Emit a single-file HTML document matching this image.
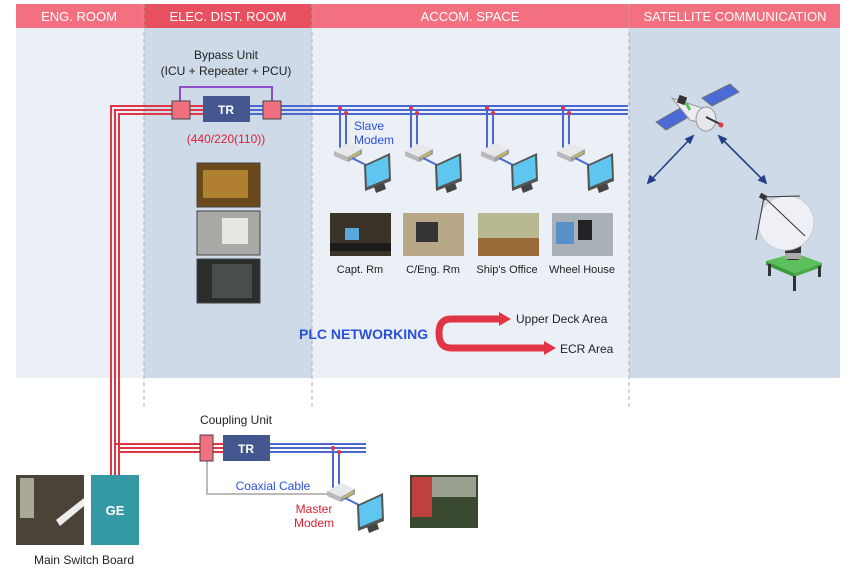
<!DOCTYPE html>
<html><head><meta charset="utf-8"><style>
html,body{margin:0;padding:0;background:#fff;}
svg{display:block;font-family:"Liberation Sans",sans-serif;}
</style></head><body>
<svg width="856" height="569" viewBox="0 0 856 569" xmlns="http://www.w3.org/2000/svg">
<defs>
<g id="pc">
  <polygon points="0,8 14,0 28,6 14,14" fill="#e8e8ea"/>
  <polygon points="0,8 14,14 14,19 0,13" fill="#b8b8bc"/>
  <polygon points="14,14 28,6 28,11 14,19" fill="#9a9aa0"/>
  <line x1="16" y1="15" x2="26" y2="9" stroke="#d4c34a" stroke-width="1.5"/>
  <line x1="18" y1="15" x2="32" y2="22" stroke="#4a6ad0" stroke-width="2"/>
  <polygon points="30,22 56,10 57,38 31,48" fill="#555"/>
  <polygon points="32,23 54,13 55,35 33,44" fill="#5ec6ef"/>
  <polygon points="40,44 50,40 52,46 42,50" fill="#444"/>
</g>
</defs>
<!-- backgrounds -->
<rect x="16" y="28" width="824" height="350" fill="#ebf0f7"/>
<rect x="144" y="28" width="168" height="350" fill="#cfdae8"/>
<rect x="629" y="28" width="211" height="350" fill="#cfdae8"/>
<!-- headers -->
<rect x="16" y="4" width="824" height="24" fill="#f2707f"/>
<rect x="144" y="4" width="168" height="24" fill="#e9505f"/>
<g fill="#fff" font-size="13" text-anchor="middle">
<text x="79" y="21">ENG. ROOM</text>
<text x="228" y="21">ELEC. DIST. ROOM</text>
<text x="470" y="21">ACCOM. SPACE</text>
<text x="735" y="21">SATELLITE COMMUNICATION</text>
</g>
<!-- dashed separators -->
<g stroke="#a8adb5" stroke-dasharray="4,3" stroke-width="1">
<line x1="144" y1="4" x2="144" y2="408"/>
<line x1="312" y1="4" x2="312" y2="408"/>
<line x1="629" y1="4" x2="629" y2="408"/>
</g>
<!-- red vertical/horizontal top -->
<g stroke="#e03545" stroke-width="2" fill="none">
<polyline points="172,106 111,106 111,475"/>
<polyline points="172,110 115,110 115,475"/>
<polyline points="172,114 119,114 119,475"/>
<line x1="190" y1="106" x2="203" y2="106"/><line x1="190" y1="110" x2="203" y2="110"/><line x1="190" y1="114" x2="203" y2="114"/>
<line x1="115" y1="444" x2="200" y2="444"/><line x1="119" y1="448" x2="200" y2="448"/><line x1="119" y1="452" x2="200" y2="452"/>
<line x1="213" y1="444" x2="223" y2="444"/><line x1="213" y1="448" x2="223" y2="448"/><line x1="213" y1="452" x2="223" y2="452"/>
</g>
<!-- blue top -->
<g stroke="#4a68d0" stroke-width="2" fill="none">
<line x1="250" y1="106" x2="263" y2="106"/><line x1="250" y1="110" x2="263" y2="110"/><line x1="250" y1="114" x2="263" y2="114"/>
<line x1="281" y1="106" x2="628" y2="106"/><line x1="281" y1="110" x2="628" y2="110"/><line x1="281" y1="114" x2="628" y2="114"/>
<line x1="270" y1="444" x2="366" y2="444"/><line x1="270" y1="448" x2="366" y2="448"/><line x1="270" y1="452" x2="366" y2="452"/>
<line x1="340" y1="108" x2="340" y2="148"/><line x1="346" y1="113" x2="346" y2="146"/>
<line x1="411" y1="108" x2="411" y2="148"/><line x1="417" y1="113" x2="417" y2="146"/>
<line x1="487" y1="108" x2="487" y2="148"/><line x1="493" y1="113" x2="493" y2="146"/>
<line x1="563" y1="108" x2="563" y2="148"/><line x1="569" y1="113" x2="569" y2="146"/>
<line x1="333" y1="447" x2="333" y2="488"/><line x1="339" y1="452" x2="339" y2="486"/>
</g>
<g fill="#e03545">
<circle cx="340" cy="108" r="2"/><circle cx="346" cy="113" r="2"/>
<circle cx="411" cy="108" r="2"/><circle cx="417" cy="113" r="2"/>
<circle cx="487" cy="108" r="2"/><circle cx="493" cy="113" r="2"/>
<circle cx="563" cy="108" r="2"/><circle cx="569" cy="113" r="2"/>
<circle cx="333" cy="448" r="2"/><circle cx="339" cy="452" r="2"/>
</g>
<!-- bypass -->
<polyline points="180,101 180,87 272,87 272,101" stroke="#8e4fc8" stroke-width="2" fill="none"/>
<rect x="172" y="101" width="18" height="18" fill="#f07080" stroke="#444" stroke-width="1"/>
<rect x="263" y="101" width="18" height="18" fill="#f07080" stroke="#444" stroke-width="1"/>
<rect x="203" y="96" width="47" height="26" fill="#44578f"/>
<text x="226" y="114" fill="#fff" font-size="12" font-weight="bold" text-anchor="middle">TR</text>
<text x="226" y="59" font-size="12" fill="#222" text-anchor="middle">Bypass Unit</text>
<text x="226" y="75" font-size="12" fill="#222" text-anchor="middle">(ICU + Repeater + PCU)</text>
<text x="226" y="143" font-size="12" fill="#e02030" text-anchor="middle">(440/220(110))</text>
<!-- elec photos -->
<rect x="197" y="163" width="63" height="44" fill="#6a4a1a" stroke="#444"/>
<rect x="203" y="170" width="45" height="28" fill="#b08030"/>
<rect x="197" y="211" width="63" height="44" fill="#a8aaa6" stroke="#444"/>
<rect x="222" y="218" width="26" height="26" fill="#e6e6e2"/>
<rect x="197" y="259" width="63" height="44" fill="#2a2e2c" stroke="#444"/>
<rect x="212" y="264" width="40" height="34" fill="#4a4e4a"/>
<!-- slave modems -->
<text x="354" y="130" font-size="12" fill="#2a4fe0">Slave</text>
<text x="354" y="144" font-size="12" fill="#2a4fe0">Modem</text>
<use href="#pc" x="334" y="143"/>
<use href="#pc" x="405" y="143"/>
<use href="#pc" x="481" y="143"/>
<use href="#pc" x="557" y="143"/>
<!-- room photos -->
<rect x="330" y="213" width="61" height="43" fill="#3a3428"/><rect x="345" y="228" width="14" height="12" fill="#58a8e0"/><rect x="330" y="243" width="61" height="8" fill="#1a1a1a"/>
<rect x="403" y="213" width="61" height="43" fill="#b8a888"/><rect x="416" y="222" width="22" height="20" fill="#333"/>
<rect x="478" y="213" width="61" height="43" fill="#b8b890"/><rect x="478" y="238" width="61" height="18" fill="#9a6a38"/>
<rect x="552" y="213" width="61" height="43" fill="#aab0b8"/><rect x="556" y="222" width="18" height="22" fill="#5a90c8"/><rect x="578" y="220" width="14" height="20" fill="#222"/>
<g font-size="11" fill="#222" text-anchor="middle">
<text x="360" y="273">Capt. Rm</text>
<text x="433" y="273">C/Eng. Rm</text>
<text x="507" y="273">Ship's Office</text>
<text x="582" y="273">Wheel House</text>
</g>
<!-- PLC -->
<text x="299" y="339" font-size="14" font-weight="bold" fill="#2a4fe0">PLC NETWORKING</text>
<path d="M500,319 L451,319 Q439,319 439,333 Q439,348 451,348 L545,348" stroke="#e03545" stroke-width="7" fill="none"/>
<polygon points="499,312 511,319 499,326" fill="#e03545"/>
<polygon points="544,341 556,348 544,355" fill="#e03545"/>
<text x="516" y="323" font-size="12" fill="#222">Upper Deck Area</text>
<text x="560" y="353" font-size="12" fill="#222">ECR Area</text>
<!-- satellite -->
<g>
<polygon points="656,122 684,106 694,114 666,130" fill="#4a6ad8" stroke="#777"/>
<polygon points="702,98 730,84 739,92 712,106" fill="#4a6ad8" stroke="#777"/>
<polygon points="672,98 702,108 712,126 690,120" fill="#eceef4" stroke="#999"/>
<rect x="678" y="96" width="8" height="8" fill="#333" transform="rotate(20 682 100)"/>
<ellipse cx="706" cy="119" rx="10" ry="12" fill="#e6e8ee" stroke="#999"/>
<line x1="706" y1="117" x2="720" y2="124" stroke="#333" stroke-width="2"/>
<circle cx="721" cy="125" r="2.5" fill="#e03545"/>
<line x1="686" y1="103" x2="690" y2="110" stroke="#5ac05a" stroke-width="3"/>
</g>
<g stroke="#24408a" stroke-width="1.6" fill="#24408a">
<line x1="691" y1="138" x2="650" y2="181"/>
<polygon points="693,136 686,139 690,143"/><polygon points="648,183 650,176 655,180"/>
<line x1="721" y1="138" x2="764" y2="181"/>
<polygon points="719,136 726,139 722,143"/><polygon points="766,183 759,180 764,176"/>
</g>
<g>
<polygon points="766,261 795,253 822,263 794,273" fill="#5cc05c"/>
<polygon points="766,261 794,273 794,277 766,265" fill="#3a9a3a"/>
<polygon points="794,273 822,263 822,267 794,277" fill="#4aaa4a"/>
<rect x="768" y="264" width="3" height="12" fill="#333"/><rect x="793" y="276" width="3" height="15" fill="#333"/><rect x="818" y="266" width="3" height="11" fill="#333"/>
<rect x="785" y="238" width="16" height="22" rx="4" fill="#333"/>
<rect x="785" y="253" width="16" height="6" fill="#aaa"/>
<ellipse cx="786" cy="223" rx="28" ry="27" fill="#eef0f5" stroke="#ccc" transform="rotate(-20 786 223)"/>
<line x1="764" y1="197" x2="805" y2="236" stroke="#333"/>
<line x1="764" y1="197" x2="756" y2="240" stroke="#333"/>
<line x1="764" y1="197" x2="800" y2="196" stroke="#333"/>
<rect x="760" y="194" width="7" height="5" fill="#333" transform="rotate(30 763 196)"/>
</g>
<!-- coupling -->
<text x="236" y="424" font-size="12" fill="#222" text-anchor="middle">Coupling Unit</text>
<polyline points="207,461 207,494 330,494" stroke="#bbb" stroke-width="2" fill="none"/>
<rect x="200" y="435" width="13" height="26" fill="#f07080" stroke="#444"/>
<rect x="223" y="435" width="47" height="26" fill="#44578f"/>
<text x="246" y="453" fill="#fff" font-size="12" font-weight="bold" text-anchor="middle">TR</text>
<text x="273" y="490" font-size="12" fill="#2a4fe0" text-anchor="middle">Coaxial Cable</text>
<text x="314" y="513" font-size="12" fill="#e02030" text-anchor="middle">Master</text>
<text x="314" y="527" font-size="12" fill="#e02030" text-anchor="middle">Modem</text>
<use href="#pc" x="327" y="483"/>
<rect x="410" y="475" width="68" height="53" fill="#3a4a30"/><rect x="412" y="477" width="20" height="40" fill="#c04040"/><rect x="432" y="477" width="44" height="20" fill="#9aa090"/>
<rect x="16" y="475" width="68" height="70" fill="#4a4438"/><rect x="20" y="478" width="14" height="40" fill="#aaa898"/><polygon points="56,520 84,498 84,506 60,526" fill="#eee"/>
<rect x="91" y="475" width="48" height="70" fill="#3598a5"/>
<text x="115" y="515" fill="#fff" font-size="13" font-weight="bold" text-anchor="middle">GE</text>
<text x="84" y="564" font-size="12" fill="#222" text-anchor="middle">Main Switch Board</text>
</svg>
</body></html>
